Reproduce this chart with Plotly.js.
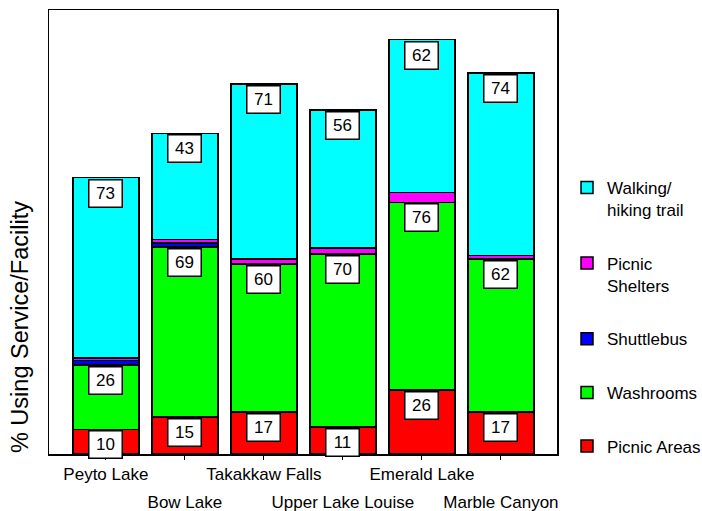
<!DOCTYPE html>
<html>
<head>
<meta charset="utf-8">
<script src="https://cdn.plot.ly/plotly-3.0.1.min.js"></script>
<style>html,body{margin:0;padding:0;background:#fff;}#chart{width:702px;height:511px;}</style>
</head>
<body>
<div id="chart"></div>
<script>
// ---- data ----
const categories = ['Peyto Lake', 'Bow Lake', 'Takakkaw Falls', 'Upper Lake Louise', 'Emerald Lake', 'Marble Canyon'];
const picnicAreas    = [10, 15, 17, 11, 26, 17];
const washrooms      = [26, 69, 60, 70, 76, 62];
const shuttlebus     = [2, 1.5, 0, 0, 0, 0];
const picnicShelters = [1, 1.5, 2, 2.5, 4, 1.5];
const walkingTrail   = [73, 43, 71, 56, 62, 74];

const seriesNames  = ['Picnic Areas', 'Washrooms', 'Shuttlebus', 'Picnic<br>Shelters', 'Walking/<br>hiking trail'];
const seriesValues = [picnicAreas, washrooms, shuttlebus, picnicShelters, walkingTrail];
const seriesColors = ['#FF0000', '#00FF00', '#0000FF', '#FF00FF', '#00FFFF'];
const labelledSeries = [0, 1, 4];

const FONT = 'Liberation Sans, Arial, sans-serif';
const idx = categories.map((c, i) => i);
const oddIdx = idx.filter(i => i % 2 === 1);
const xRange = [-0.72, 5.71];

const traces = seriesValues.map((vals, s) => ({
  type: 'bar',
  x: categories,
  y: vals,
  name: seriesNames[s],
  legendgroup: 'g' + s,
  legendrank: 10 - s,
  width: 0.835,
  marker: {color: seriesColors[s], line: {color: '#000', width: 1.5}},
  hoverinfo: 'x+y+name'
}));
// helper trace so the second (staggered) category axis is drawn
traces.push({
  type: 'scatter', mode: 'none', xaxis: 'x2', yaxis: 'y',
  x: oddIdx, y: oddIdx.map(() => null),
  showlegend: false, hoverinfo: 'skip'
});

// value boxes at top of each labelled segment
const annotations = [];
labelledSeries.forEach(s => {
  categories.forEach((c, i) => {
    let top = 0;
    for (let k = 0; k <= s; k++) top += seriesValues[k][i];
    annotations.push({
      x: c, y: top, xref: 'x', yref: 'y',
      text: String(seriesValues[s][i]),
      showarrow: false, yanchor: 'top', xanchor: 'center', yshift: -1,
      font: {family: FONT, size: 17, color: '#000'},
      bgcolor: '#fff', bordercolor: '#000', borderwidth: 1.5, borderpad: 0,
      width: 32, height: 26
    });
  });
});
annotations.push({
  text: '% Using Service/Facility', textangle: -90,
  xref: 'paper', yref: 'paper', x: -0.057, y: 0.286,
  xanchor: 'center', yanchor: 'middle', showarrow: false,
  font: {family: FONT, size: 23.5, color: '#000'}
});

const layout = {
  width: 702, height: 511,
  margin: {l: 49, r: 145, t: 10, b: 57, autoexpand: false},
  paper_bgcolor: '#fff', plot_bgcolor: '#fff',
  barmode: 'stack',
  font: {family: FONT, size: 17, color: '#000'},
  xaxis: {
    type: 'category', range: xRange,
    showline: true, mirror: true, linecolor: '#000', linewidth: 1.5,
    ticks: 'outside', ticklen: 4, tickwidth: 1, tickcolor: '#000',
    tickmode: 'array', tickvals: categories,
    ticktext: categories.map((c, i) => i % 2 === 0 ? c : ''),
    tickfont: {family: FONT, size: 17, color: '#000'},
    showgrid: false, zeroline: false, fixedrange: true
  },
  xaxis2: {
    overlaying: 'x', anchor: 'y', side: 'bottom', type: 'linear', range: xRange,
    showline: false, showgrid: false, zeroline: false, ticks: '',
    tickmode: 'array', tickvals: oddIdx, ticktext: oddIdx.map(i => categories[i]),
    ticklabelstandoff: 36,
    tickfont: {family: FONT, size: 17, color: '#000'}, fixedrange: true
  },
  yaxis: {
    range: [0, 180],
    showline: true, mirror: true, linecolor: '#000', linewidth: 1.5,
    showticklabels: false, ticks: '', showgrid: false, zeroline: false, fixedrange: true
  },
  showlegend: true,
  legend: {
    x: 1.0197, xanchor: 'left', y: 0.64, yanchor: 'top',
    traceorder: 'grouped', tracegroupgap: 28.5, valign: 'top',
    font: {family: FONT, size: 17, color: '#000'},
    bgcolor: 'rgba(0,0,0,0)'
  },
  annotations: annotations
};

Plotly.newPlot('chart', traces, layout, {displayModeBar: false, staticPlot: true});
</script>
</body>
</html>
